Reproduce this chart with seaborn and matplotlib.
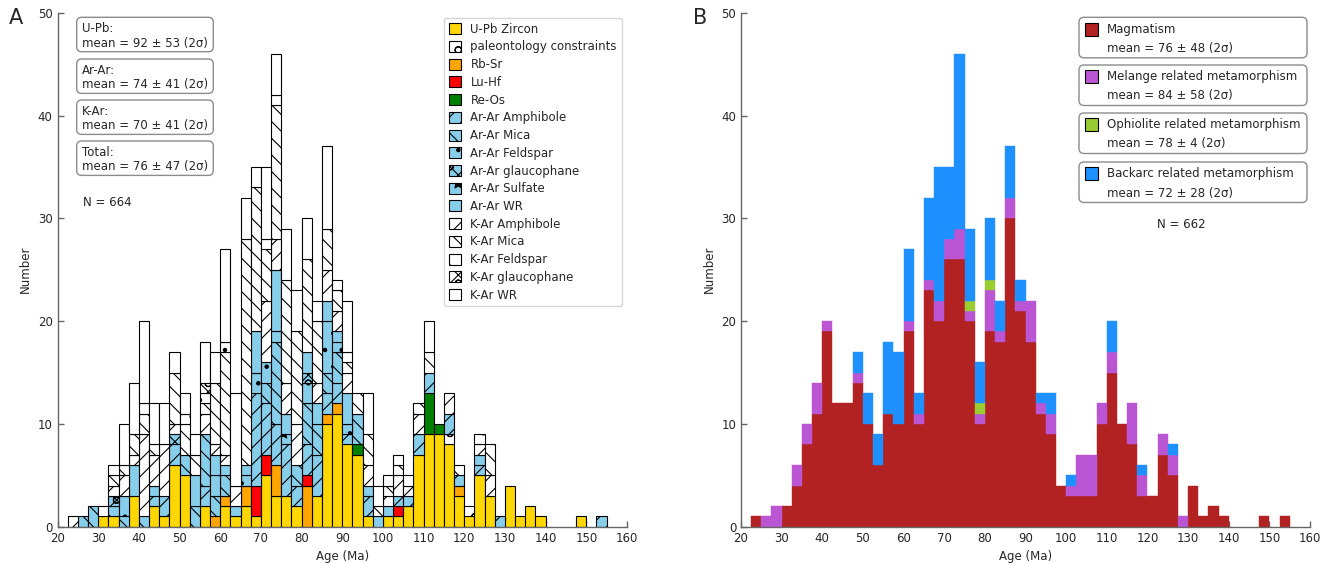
import numpy as np
import pandas as pd
import matplotlib
matplotlib.use("Agg")
import matplotlib.pyplot as plt
import seaborn as sns
from matplotlib.patches import Patch, Rectangle, FancyBboxPatch

# ---------------- bins ----------------
BIN_START = 22.5
BIN_WIDTH = 2.5
N_BINS = 53

# ---------------- Panel A data (counts keyed by bin left edge, Ma) ----------------
upb_zircon = {30: 1, 32.5: 1, 37.5: 3, 42.5: 2, 45: 1, 47.5: 6, 50: 5, 55: 2, 60: 2, 62.5: 1,
              65: 2, 67.5: 1, 70: 5, 72.5: 3, 75: 3, 77.5: 2, 82.5: 3, 85: 10, 87.5: 11, 90: 8,
              92.5: 7, 95: 1, 100: 1, 102.5: 1, 105: 2, 107.5: 7, 110: 9, 112.5: 9, 115: 8,
              117.5: 3, 120: 1, 122.5: 5, 125: 3, 130: 4, 132.5: 1, 135: 2, 137.5: 1, 147.5: 1}
paleontology = {115: 1, 120: 1}
rb_sr = {57.5: 1, 60: 1, 65: 2, 72.5: 3, 80: 4, 85: 1, 87.5: 1, 117.5: 1}
lu_hf = {67.5: 3, 70: 2, 80: 1, 102.5: 1}
re_os = {92.5: 1, 110: 4, 112.5: 1}
arar_amphibole = {42.5: 1, 45: 2, 47.5: 2, 55: 2, 67.5: 9, 70: 5, 72.5: 4, 75: 5, 77.5: 2, 80: 3,
                  82.5: 4, 85: 2, 87.5: 2, 90: 1, 95: 2, 102.5: 1, 105: 1, 107.5: 2, 110: 2,
                  115: 2, 117.5: 1, 122.5: 1, 127.5: 1, 152.5: 1}
arar_mica = {25: 1, 27.5: 2, 35: 1, 40: 1, 50: 2, 52.5: 2, 55: 5, 57.5: 2, 60: 2, 70: 2, 72.5: 8,
             77.5: 2, 80: 4, 82.5: 3, 85: 2, 87.5: 3, 92.5: 3}
arar_feldspar = {32.5: 1, 35: 2, 42.5: 1, 57.5: 2, 60: 1, 65: 1, 67.5: 2, 70: 2, 72.5: 1, 80: 2,
                 85: 5, 87.5: 1, 90: 1}
arar_glaucophane = {32.5: 1, 47.5: 1, 80: 1}
arar_sulfate = {75: 1}
arar_wr = {37.5: 3, 52.5: 3, 57.5: 2, 62.5: 1, 65: 1, 67.5: 4, 72.5: 6, 75: 2, 80: 2, 82.5: 2,
           85: 2, 87.5: 1, 90: 3, 95: 1, 97.5: 1, 100: 1, 122.5: 1}
kar_amphibole = {22.5: 1, 32.5: 1, 35: 2, 37.5: 1, 40: 8, 42.5: 3, 45: 5, 47.5: 1, 55: 2, 57.5: 1,
                 60: 1, 62.5: 2, 70: 6, 72.5: 3, 75: 3, 77.5: 4, 82.5: 2, 85: 3, 87.5: 2, 90: 2,
                 95: 2, 100: 1, 102.5: 2, 105: 1, 107.5: 2, 115: 2, 122.5: 1, 125: 2}
kar_mica = {32.5: 1, 35: 1, 37.5: 2, 40: 2, 42.5: 1, 47.5: 5, 50: 3, 52.5: 2, 55: 1, 57.5: 6,
            60: 10, 65: 22, 67.5: 14, 70: 5, 72.5: 13, 75: 10, 77.5: 9, 80: 9, 82.5: 6, 85: 4,
            87.5: 2, 90: 1, 92.5: 2, 95: 3, 97.5: 1, 100: 1, 102.5: 1, 107.5: 1, 110: 2,
            117.5: 1, 125: 3}
kar_feldspar = {40: 1, 50: 1, 55: 1, 60: 1, 70: 1, 72.5: 1, 90: 1, 122.5: 1}
kar_glaucophane = {55: 1}
kar_wr = {30: 1, 32.5: 1, 35: 4, 37.5: 5, 40: 8, 42.5: 4, 45: 4, 47.5: 2, 50: 2, 52.5: 2, 55: 4,
          57.5: 3, 60: 9, 62.5: 9, 65: 4, 67.5: 2, 70: 7, 72.5: 4, 75: 5, 77.5: 4, 80: 4,
          82.5: 2, 85: 8, 87.5: 1, 90: 5, 95: 4, 97.5: 2, 100: 1, 102.5: 1, 105: 1, 110: 3}

labels_a = ["U-Pb Zircon", "paleontology constraints", "Rb-Sr", "Lu-Hf", "Re-Os",
            "Ar-Ar Amphibole", "Ar-Ar Mica", "Ar-Ar Feldspar", "Ar-Ar glaucophane",
            "Ar-Ar Sulfate", "Ar-Ar WR", "K-Ar Amphibole", "K-Ar Mica", "K-Ar Feldspar",
            "K-Ar glaucophane", "K-Ar WR"]
series_a = [upb_zircon, paleontology, rb_sr, lu_hf, re_os, arar_amphibole, arar_mica,
            arar_feldspar, arar_glaucophane, arar_sulfate, arar_wr, kar_amphibole, kar_mica,
            kar_feldspar, kar_glaucophane, kar_wr]
colors_a = ["#FFD700", "white", "#FFA500", "#FF0000", "#008000", "#87CEEB", "#87CEEB",
            "#87CEEB", "#87CEEB", "#87CEEB", "#87CEEB", "white", "white", "white", "white", "white"]
hatches_a = [None, "o", None, None, None, "//", "\\\\", ".", "xxo", "*", None,
             "//", "\\\\", ".", "xxo", None]

box_titles_a = ["U-Pb:", "Ar-Ar:", "K-Ar:", "Total:"]
box_means_a = ["mean = 92 ± 53 (2σ)", "mean = 74 ± 41 (2σ)", "mean = 70 ± 41 (2σ)",
               "mean = 76 ± 47 (2σ)"]
n_text_a = "N = 664"

# ---------------- Panel B data ----------------
magmatism = {22.5: 1, 30: 2, 32.5: 4, 35: 8, 37.5: 11, 40: 19, 42.5: 12, 45: 12, 47.5: 14, 50: 10,
             52.5: 6, 55: 11, 57.5: 10, 60: 19, 62.5: 10, 65: 23, 67.5: 20, 70: 26, 72.5: 26,
             75: 20, 77.5: 10, 80: 19, 82.5: 18, 85: 30, 87.5: 21, 90: 18, 92.5: 11, 95: 9,
             97.5: 4, 100: 3, 102.5: 3, 105: 3, 107.5: 10, 110: 15, 112.5: 10, 115: 8, 117.5: 3,
             120: 3, 122.5: 7, 125: 5, 130: 4, 132.5: 1, 135: 2, 137.5: 1, 147.5: 1, 152.5: 1}
melange = {25: 1, 27.5: 2, 32.5: 2, 35: 2, 37.5: 3, 40: 1, 47.5: 1, 60: 1, 62.5: 1, 65: 1,
           67.5: 2, 70: 2, 72.5: 3, 75: 1, 77.5: 1, 80: 4, 82.5: 1, 85: 2, 87.5: 1, 90: 4,
           92.5: 1, 95: 2, 100: 1, 102.5: 4, 105: 4, 107.5: 2, 110: 2, 115: 4, 117.5: 2,
           122.5: 2, 125: 2, 127.5: 1}
ophiolite = {75: 1, 77.5: 1, 80: 1}
backarc = {47.5: 2, 50: 3, 52.5: 3, 55: 7, 57.5: 7, 60: 7, 62.5: 2, 65: 8, 67.5: 13, 70: 7,
           72.5: 17, 75: 7, 77.5: 4, 80: 6, 82.5: 3, 85: 5, 87.5: 2, 92.5: 1, 95: 2, 100: 1,
           110: 3, 117.5: 1, 125: 1}

labels_b = ["Magmatism", "Melange related metamorphism", "Ophiolite related metamorphism",
            "Backarc related metamorphism"]
series_b = [magmatism, melange, ophiolite, backarc]
colors_b = ["#B22222", "#BA55D3", "#9ACD32", "#1E90FF"]
means_b = ["mean = 76 ± 48 (2σ)", "mean = 84 ± 58 (2σ)", "mean = 78 ± 4 (2σ)",
           "mean = 72 ± 28 (2σ)"]
n_text_b = "N = 662"

# ---------------- helpers ----------------
def to_long(labels, series):
    rows = []
    for lab, d in zip(labels, series):
        for left, n in d.items():
            rows.append((left + BIN_WIDTH / 2, lab, n))
    return pd.DataFrame(rows, columns=["age", "cat", "n"])


BIN_RANGE = (BIN_START, BIN_START + BIN_WIDTH * N_BINS)

sns.set_style("white")
plt.rcParams["font.family"] = ["DejaVu Sans"]
plt.rcParams["hatch.linewidth"] = 0.8
plt.rcParams["hatch.color"] = "black"

FS = 8.5
W, H = 1333, 563
fig = plt.figure(figsize=(W / 100, H / 100), dpi=100)

axA = fig.add_axes([57.5 / W, (H - 526.7) / H, (627 - 57.5) / W, 514 / H])
axB = fig.add_axes([741 / W, (H - 526.7) / H, (1310 - 741) / W, 514 / H])

# ---------------- Panel A ----------------
dfA = to_long(labels_a, series_a)
tmp_pal = sns.color_palette("tab20", len(labels_a))
tmp_map = dict(zip(labels_a, tmp_pal))
sns.histplot(data=dfA, x="age", hue="cat", weights="n", binwidth=BIN_WIDTH, binrange=BIN_RANGE,
             multiple="stack", hue_order=labels_a[::-1], palette=tmp_map, alpha=1,
             edgecolor="black", linewidth=0.8, legend=False, ax=axA)

tmp_arr = np.array(tmp_pal)
for p in axA.patches:
    if p.get_height() <= 0:
        p.set_visible(False)
        continue
    fc = np.array(p.get_facecolor()[:3])
    idx = int(np.argmin(((tmp_arr - fc) ** 2).sum(axis=1)))
    p.set_facecolor(colors_a[idx])
    p.set_edgecolor("black")
    if hatches_a[idx]:
        p.set_hatch(hatches_a[idx])

handles = [Patch(facecolor=c, edgecolor="black", hatch=h, linewidth=0.8, label=l)
           for l, c, h in zip(labels_a, colors_a, hatches_a)]
axA.legend(handles=handles, loc="upper right", fontsize=FS, handlelength=1.05,
           handleheight=1.05, handletextpad=0.8, labelspacing=0.4, borderaxespad=0.45,
           borderpad=0.4, frameon=True)

# ---------------- Panel B ----------------
dfB = to_long(labels_b, series_b)
sns.histplot(data=dfB, x="age", hue="cat", weights="n", binwidth=BIN_WIDTH, binrange=BIN_RANGE,
             multiple="stack", hue_order=labels_b[::-1], palette=dict(zip(labels_b, colors_b)),
             alpha=1, linewidth=0.3, legend=False, ax=axB)
for p in axB.patches:
    if p.get_height() <= 0:
        p.set_visible(False)
    else:
        p.set_edgecolor(p.get_facecolor())

# ---------------- axes styling ----------------
for ax in (axA, axB):
    ax.set_xlim(20, 160)
    ax.set_ylim(0, 50)
    ax.set_xticks(np.arange(20, 161, 10))
    ax.set_yticks(np.arange(0, 51, 10))
    ax.set_xlabel("Age (Ma)", fontsize=FS)
    ax.set_ylabel("Number", fontsize=FS)
    for s in ("top", "right"):
        ax.spines[s].set_visible(False)
    for s in ("left", "bottom"):
        ax.spines[s].set_color("#666666")
        ax.spines[s].set_linewidth(1.0)
    ax.tick_params(direction="in", length=4, width=1, color="#666666", labelsize=FS,
                   bottom=True, left=True)

# ---------------- annotation boxes ----------------
T = fig.dpi_scale_trans


def P(x, y):
    return x / 100, (H - y) / 100


def add_box(x0, y0, x1, y1):
    bx, by = P(x0, y1)
    box = FancyBboxPatch((bx, by), (x1 - x0) / 100, (y1 - y0) / 100,
                         boxstyle="round,pad=0,rounding_size=0.05", transform=T,
                         facecolor="white", edgecolor="#8c8c8c", linewidth=1.0, zorder=5)
    fig.add_artist(box)


box_tops_a = [17.3, 59, 100, 141]
for top, t1, t2 in zip(box_tops_a, box_titles_a, box_means_a):
    add_box(76.7, top, 213.3, top + 34.4)
    fig.text(*P(82, top + 11.7), t1, transform=T, fontsize=FS, va="center", ha="left", zorder=6)
    fig.text(*P(82, top + 25.7), t2, transform=T, fontsize=FS, va="center", ha="left", zorder=6)
fig.text(*P(82.7, 203), n_text_a, transform=T, fontsize=FS, va="center", ha="left")

box_tops_b = [17.3, 65, 113, 162]
for top, lab, col, mean in zip(box_tops_b, labels_b, colors_b, means_b):
    add_box(1079, top, 1307, top + 40.5)
    hx, hy = P(1085, top + 11.7 + 6.5)
    fig.add_artist(Rectangle((hx, hy), 0.13, 0.13, transform=T, facecolor=col,
                             edgecolor="black", linewidth=0.8, zorder=7))
    fig.text(*P(1107, top + 11.7), lab, transform=T, fontsize=FS, va="center", ha="left", zorder=6)
    fig.text(*P(1107, top + 31), mean, transform=T, fontsize=FS, va="center", ha="left", zorder=6)
fig.text(*P(1181, 225), n_text_b, transform=T, fontsize=FS, va="center", ha="center")

fig.text(*P(16, 18), "A", transform=T, fontsize=15, va="center", ha="center")
fig.text(*P(700, 18), "B", transform=T, fontsize=15, va="center", ha="center")

fig.savefig("out.png", dpi=100)
